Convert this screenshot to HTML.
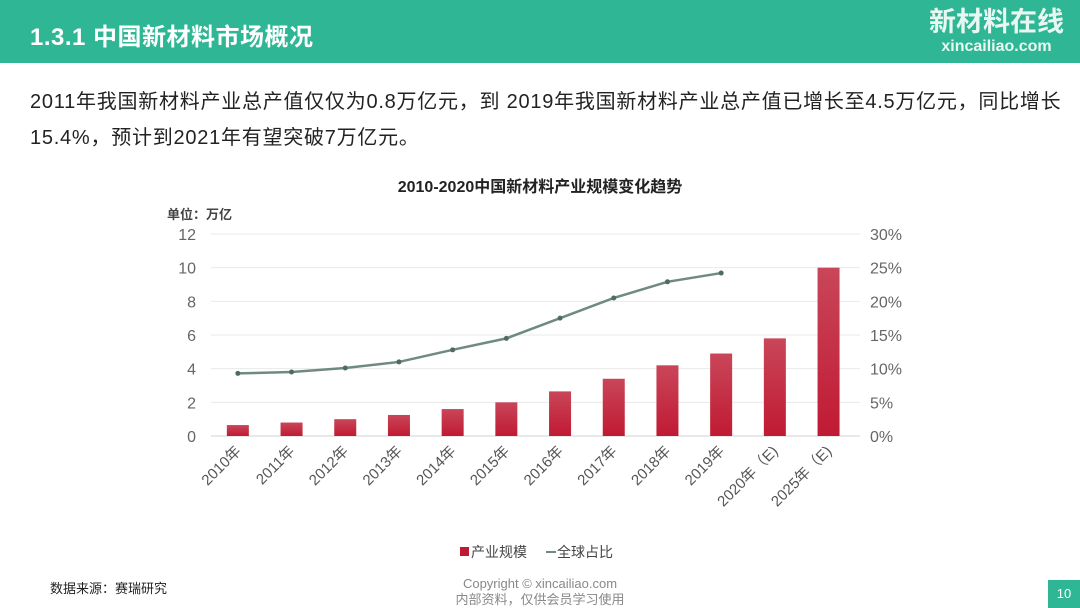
<!DOCTYPE html>
<html><head><meta charset="utf-8"><style>
body{margin:0;width:1080px;height:608px;background:#fff;overflow:hidden;font-family:"Liberation Sans","Noto Sans CJK SC",sans-serif;position:relative}
.hdr{position:absolute;left:0;top:0;width:1080px;height:63px;background:#2fb795}
.title{position:absolute;left:30px;top:17px;color:#fff;font-size:24px;font-weight:bold;letter-spacing:0.5px}
.logo{position:absolute;right:16px;top:6px;color:#e8f7f2;text-align:center;font-weight:bold}
.p{position:absolute;left:30px;font-size:20px;color:#222;letter-spacing:0.75px}
</style></head><body>
<div class="hdr"></div>
<div class="title">1.3.1 中国新材料市场概况</div>
<div class="logo"><div style="font-size:27px;line-height:32px">新材料在线</div><div style="font-size:16px;line-height:18px">xincailiao.com</div></div>
<div class="p" style="top:85px">2011年我国新材料产业总产值仅仅为0.8万亿元，到 2019年我国新材料产业总产值已增长至4.5万亿元，同比增长</div>
<div class="p" style="top:121px">15.4%，预计到2021年有望突破7万亿元。</div>
<svg id="chart" width="1080" height="608" style="position:absolute;left:0;top:0">
<defs><linearGradient id="g" x1="0" y1="0" x2="0" y2="1"><stop offset="0" stop-color="#c94659"/><stop offset="1" stop-color="#c01a33"/></linearGradient></defs>
</svg>
<div style="position:absolute;left:50px;top:578px;font-size:13px;color:#222">数据来源：赛瑞研究</div>
<div style="position:absolute;left:440px;top:576px;width:200px;text-align:center;font-size:13px;color:#888;line-height:16px">Copyright © xincailiao.com<br>内部资料，仅供会员学习使用</div>
<div style="position:absolute;right:0;top:580px;width:32px;height:28px;background:#2fb795;color:#fff;font-size:13px;text-align:center;line-height:28px">10</div>
<script>
const categories=["2010年","2011年","2012年","2013年","2014年","2015年","2016年","2017年","2018年","2019年","2020年（E)","2025年（E)"];
const scaleValues=[0.65,0.8,1.0,1.25,1.6,2.0,2.65,3.4,4.2,4.9,5.8,10.0];
const shareValues=[9.3,9.5,10.1,11.0,12.8,14.5,17.5,20.5,22.9,24.2];
const leftTicks=[0,2,4,6,8,10,12];
const rightTicks=["0%","5%","10%","15%","20%","25%","30%"];
const svg=document.getElementById('chart');const NS='http://www.w3.org/2000/svg';
function mk(t,a,txt){const e=document.createElementNS(NS,t);for(const k in a)e.setAttribute(k,a[k]);if(txt!=null)e.textContent=txt;svg.appendChild(e);return e;}
const x0=211,step=53.7,yB=436,yT=234;
const xS=i=>x0+step*(i+0.5);
const yL=v=>yB-(v/12)*(yB-yT);
const yR=v=>yB-(v/30)*(yB-yT);
let e=mk('text',{x:540,y:192,'text-anchor':'middle','font-size':16,'font-weight':'bold',fill:'#222'},'2010-2020中国新材料产业规模变化趋势');

e=mk('text',{x:167,y:219,'font-size':13,'font-weight':'bold',fill:'#444'},'单位：万亿');

leftTicks.forEach((v,i)=>{
 e=mk('line',{x1:x0,x2:860,y1:yL(v),y2:yL(v),stroke:i?'#eaeaea':'#d0d0d0','stroke-width':1});
 
 e=mk('text',{x:196,y:yL(v)+6,'text-anchor':'end','font-size':16,fill:'#666'},v);
 
 e=mk('text',{x:870,y:yL(v)+6,'font-size':16,fill:'#666'},rightTicks[i]);
 
});
scaleValues.forEach((v,i)=>{
 e=mk('rect',{x:xS(i)-11,y:yL(v),width:22,height:yB-yL(v),fill:'url(#g)'});
 
});
categories.forEach((c,i)=>{
 e=mk('text',{x:xS(i)+4,y:yB+16,'text-anchor':'end','font-size':15,fill:'#555',transform:`rotate(-45 ${xS(i)+4} ${yB+16})`},c);
 
});
e=mk('polyline',{points:shareValues.map((v,i)=>xS(i)+','+yR(v)).join(' '),fill:'none',stroke:'#6f8a83','stroke-width':2.5});

shareValues.forEach((v,i)=>{
 e=mk('circle',{cx:xS(i),cy:yR(v),r:2.5,fill:'#4f6b64'});
 
});
e=mk('rect',{x:460,y:547,width:9,height:9,fill:'#c01a33'});

e=mk('text',{x:471,y:557,'font-size':14,fill:'#444'},'产业规模');

e=mk('line',{x1:546,x2:556,y1:552,y2:552,stroke:'#6f8a83','stroke-width':2});

e=mk('text',{x:557,y:557,'font-size':14,fill:'#444'},'全球占比');

</script>
</body></html>
